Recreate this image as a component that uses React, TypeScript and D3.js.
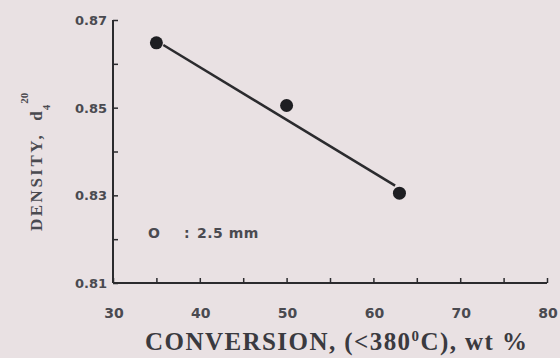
import React, { useEffect, useRef } from 'react';
import * as d3 from 'd3';

// values
const conversion = [35, 50, 63];
const density = [0.8648, 0.8505, 0.8305];
const fitX = [35.8, 62.5];
const fitY = [0.8643, 0.8322];
const xTicks = [30, 40, 50, 60, 70, 80];
const xMinor = [35, 45, 55, 65, 75];
const yTicks = [0.81, 0.83, 0.85, 0.87];
const yMinor = [0.82, 0.84, 0.86];

const App = () => {
  const ref = useRef<SVGSVGElement>(null);

  useEffect(() => {
    const width = 560;
    const height = 358;
    const svg = d3.select(ref.current);
    svg.selectAll('*').remove();

    svg.append('rect')
      .attr('width', width)
      .attr('height', height)
      .attr('fill', '#e9e1e3');

    const x = d3.scaleLinear().domain([30, 80]).range([113, 547]);
    const y = d3.scaleLinear().domain([0.81, 0.87]).range([283, 20]);
    const ink = '#2b2b2e';
    const grey = '#4a4a50';

    // Axes
    const xAxis = svg.append('g')
      .attr('transform', `translate(0, ${y(0.81)})`)
      .call(d3.axisBottom(x).tickValues([...xTicks, ...xMinor]).tickSize(-5).tickFormat(() => ''));
    xAxis.select('.domain').attr('stroke', ink).attr('stroke-width', 2).attr('d', `M${x(30)},0H${x(80)}`);
    xAxis.selectAll('line').attr('stroke', ink).attr('stroke-width', 1.5);

    const yAxis = svg.append('g')
      .attr('transform', `translate(${x(30)}, 0)`)
      .call(d3.axisLeft(y).tickValues([...yTicks, ...yMinor]).tickSize(-5).tickFormat(() => ''));
    yAxis.select('.domain').attr('stroke', ink).attr('stroke-width', 2).attr('d', `M0,${y(0.81)}V${y(0.87)}`);
    yAxis.selectAll('line').attr('stroke', ink).attr('stroke-width', 1.5);

    // Tick labels
    svg.append('g')
      .selectAll('text')
      .data(xTicks)
      .join('text')
      .attr('x', d => x(d) + 1)
      .attr('y', 318)
      .attr('text-anchor', 'middle')
      .attr('font-family', 'DejaVu Sans')
      .attr('font-weight', 'bold')
      .attr('font-size', 14)
      .attr('fill', grey)
      .text(d => d);

    svg.append('g')
      .selectAll('text')
      .data(yTicks)
      .join('text')
      .attr('x', 107)
      .attr('y', d => y(d) + 5)
      .attr('text-anchor', 'end')
      .attr('font-family', 'DejaVu Sans')
      .attr('font-weight', 'bold')
      .attr('font-size', 13)
      .attr('fill', grey)
      .text(d => d.toFixed(2));

    // Fit line and points
    const line = d3.line<number>()
      .x((d, i) => x(fitX[i]))
      .y(d => y(d));
    svg.append('path')
      .datum(fitY)
      .attr('d', line)
      .attr('fill', 'none')
      .attr('stroke', ink)
      .attr('stroke-width', 2.5);

    svg.append('g')
      .selectAll('circle')
      .data(conversion)
      .join('circle')
      .attr('cx', d => x(d))
      .attr('cy', (d, i) => y(density[i]))
      .attr('r', 6.5)
      .attr('fill', '#1e1e22');

    // Legend
    const leg = svg.append('text')
      .attr('y', 238)
      .attr('font-family', 'DejaVu Sans')
      .attr('font-weight', 'bold')
      .attr('font-size', 14)
      .attr('fill', grey);
    leg.append('tspan').attr('x', 148).text('O');
    leg.append('tspan').attr('x', 184).text(':');
    leg.append('tspan').attr('x', 197).attr('letter-spacing', 0.5).text('2.5 mm');

    // Axis titles
    const xt = svg.append('text')
      .attr('x', 145)
      .attr('y', 350)
      .attr('font-family', 'Liberation Serif')
      .attr('font-weight', 'bold')
      .attr('font-size', 25)
      .attr('textLength', 382)
      .attr('fill', '#3a3a3f')
      .text('CONVERSION,  (<380');
    xt.append('tspan').attr('dy', -9).attr('font-size', 15).text('0');
    xt.append('tspan').attr('dy', 9).text('C), wt %');

    const yt = svg.append('text')
      .attr('transform', 'translate(42, 231) rotate(-90)')
      .attr('font-family', 'Liberation Serif')
      .attr('font-weight', 'bold')
      .attr('font-size', 17)
      .attr('letter-spacing', 2.5)
      .attr('fill', '#4a4a50')
      .text('DENSITY,');
    yt.append('tspan').attr('dx', 12).attr('letter-spacing', 0).text('d');
    yt.append('tspan').attr('dx', 1).attr('dy', 8).attr('font-size', 11).attr('letter-spacing', 0).text('4');
    yt.append('tspan').attr('dx', 1).attr('dy', -22).attr('font-size', 11).attr('letter-spacing', 0).text('20');
  }, []);

  return (
    <svg ref={ref} width={560} height={358}
      style={{ position: 'absolute', left: 0, top: 0, display: 'block' }} />
  );
};

export default App;
